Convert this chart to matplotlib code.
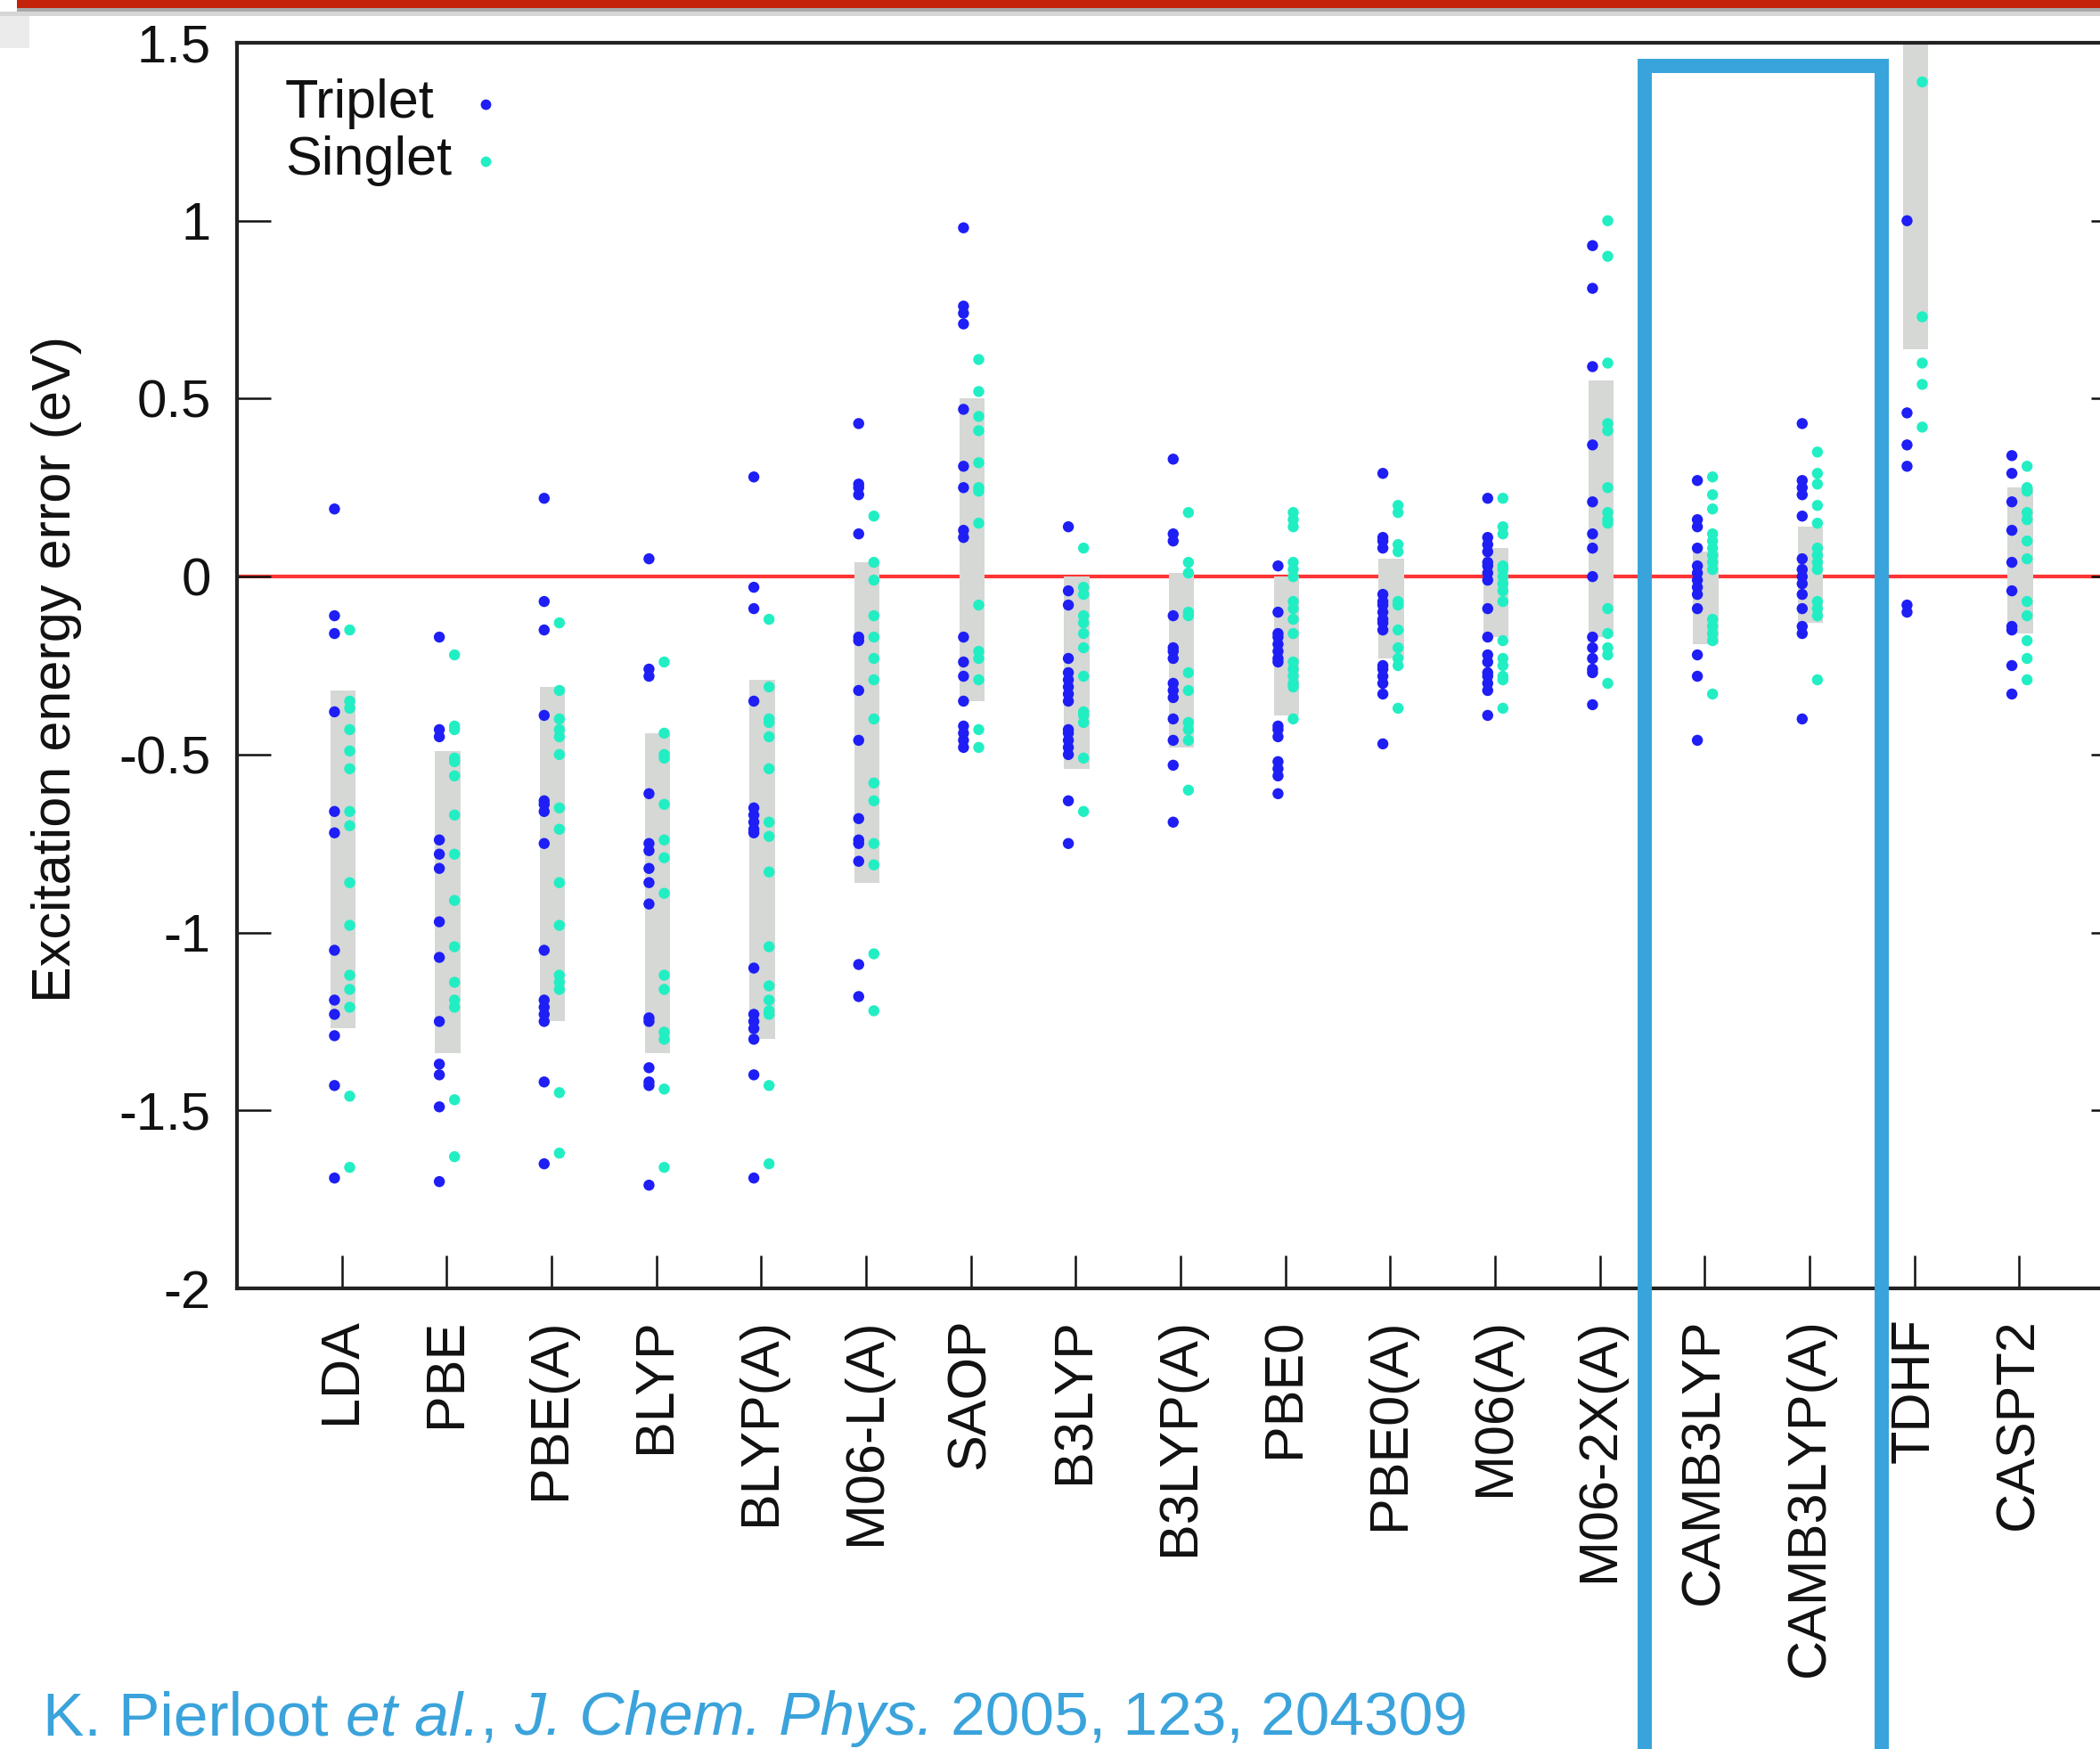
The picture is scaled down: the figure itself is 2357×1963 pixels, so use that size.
import numpy as np
import matplotlib
matplotlib.use('Agg')
import matplotlib.pyplot as plt
from matplotlib.patches import Rectangle

plt.rcParams['font.family'] = ['Liberation Sans', 'DejaVu Sans']

# Metody (osa x)
methods = ['LDA', 'PBE', 'PBE(A)', 'BLYP', 'BLYP(A)', 'M06-L(A)', 'SAOP', 'B3LYP',
           'B3LYP(A)', 'PBE0', 'PBE0(A)', 'M06(A)', 'M06-2X(A)', 'CAMB3LYP',
           'CAMB3LYP(A)', 'TDHF', 'CASPT2']

# Chyby excitačních energií (eV), tripletní (_T) a singletní (_S) stavy
LDA_T = [0.19, -0.11, -0.16, -0.38, -0.66, -0.72, -1.05, -1.19, -1.23, -1.29, -1.43, -1.69]
LDA_S = [-0.15, -0.35, -0.37, -0.43, -0.49, -0.54, -0.66, -0.70, -0.86, -0.98, -1.12, -1.16, -1.21, -1.46, -1.66]
PBE_T = [-0.17, -0.43, -0.45, -0.74, -0.78, -0.82, -0.97, -1.07, -1.25, -1.37, -1.40, -1.49, -1.70]
PBE_S = [-0.22, -0.42, -0.43, -0.51, -0.52, -0.56, -0.67, -0.78, -0.91, -1.04, -1.14, -1.19, -1.21, -1.47, -1.63]
PBEA_T = [0.22, -0.07, -0.15, -0.39, -0.63, -0.64, -0.66, -0.75, -1.05, -1.19, -1.21, -1.23, -1.25, -1.42, -1.65]
PBEA_S = [-0.13, -0.32, -0.40, -0.43, -0.45, -0.50, -0.65, -0.71, -0.86, -0.98, -1.12, -1.14, -1.16, -1.45, -1.62]
BLYP_T = [0.05, -0.26, -0.28, -0.61, -0.75, -0.77, -0.82, -0.86, -0.92, -1.24, -1.25, -1.38, -1.42, -1.43, -1.71]
BLYP_S = [-0.24, -0.44, -0.50, -0.51, -0.64, -0.74, -0.79, -0.89, -1.12, -1.16, -1.28, -1.30, -1.44, -1.66]
BLYPA_T = [0.28, -0.03, -0.09, -0.35, -0.65, -0.67, -0.69, -0.71, -0.72, -1.10, -1.23, -1.25, -1.27, -1.30, -1.40, -1.69]
BLYPA_S = [-0.12, -0.31, -0.40, -0.41, -0.45, -0.54, -0.69, -0.73, -0.83, -1.04, -1.15, -1.19, -1.22, -1.23, -1.43, -1.65]
M06LA_T = [0.43, 0.26, 0.25, 0.23, 0.12, -0.17, -0.18, -0.32, -0.46, -0.68, -0.74, -0.75, -0.80, -1.09, -1.18]
M06LA_S = [0.17, 0.04, -0.01, -0.11, -0.17, -0.23, -0.29, -0.40, -0.58, -0.63, -0.75, -0.81, -1.06, -1.22]
SAOP_T = [0.98, 0.76, 0.74, 0.71, 0.47, 0.31, 0.25, 0.13, 0.11, -0.17, -0.24, -0.28, -0.35, -0.42, -0.44, -0.46, -0.48]
SAOP_S = [0.61, 0.52, 0.45, 0.41, 0.32, 0.25, 0.24, 0.15, -0.08, -0.21, -0.23, -0.29, -0.43, -0.48]
B3LYP_T = [0.14, -0.04, -0.08, -0.23, -0.27, -0.29, -0.31, -0.33, -0.35, -0.43, -0.44, -0.46, -0.48, -0.50, -0.63, -0.75]
B3LYP_S = [0.08, -0.03, -0.05, -0.11, -0.13, -0.16, -0.20, -0.28, -0.38, -0.39, -0.41, -0.51, -0.66]
B3LYPA_T = [0.33, 0.12, 0.10, -0.11, -0.20, -0.21, -0.23, -0.30, -0.32, -0.34, -0.40, -0.46, -0.53, -0.69]
B3LYPA_S = [0.18, 0.04, 0.01, -0.10, -0.11, -0.27, -0.32, -0.41, -0.43, -0.46, -0.60]
PBE0_T = [0.03, -0.10, -0.16, -0.17, -0.19, -0.21, -0.23, -0.24, -0.42, -0.43, -0.45, -0.52, -0.54, -0.56, -0.61]
PBE0_S = [0.18, 0.16, 0.14, 0.04, 0.02, 0.00, -0.07, -0.09, -0.12, -0.16, -0.24, -0.26, -0.28, -0.30, -0.31, -0.40]
PBE0A_T = [0.29, 0.11, 0.10, 0.08, -0.05, -0.07, -0.08, -0.10, -0.12, -0.13, -0.15, -0.25, -0.26, -0.28, -0.30, -0.33, -0.47]
PBE0A_S = [0.20, 0.18, 0.09, 0.07, -0.07, -0.08, -0.15, -0.20, -0.23, -0.25, -0.37]
M06A_T = [0.22, 0.11, 0.09, 0.07, 0.04, 0.03, 0.01, -0.01, -0.09, -0.17, -0.22, -0.24, -0.27, -0.28, -0.30, -0.32, -0.39]
M06A_S = [0.22, 0.14, 0.12, 0.03, 0.02, 0.00, -0.02, -0.04, -0.07, -0.18, -0.23, -0.25, -0.28, -0.29, -0.37]
M062XA_T = [0.93, 0.81, 0.59, 0.37, 0.21, 0.12, 0.08, 0.00, -0.17, -0.20, -0.23, -0.26, -0.27, -0.36]
M062XA_S = [1.00, 0.90, 0.60, 0.43, 0.41, 0.25, 0.18, 0.16, 0.15, -0.09, -0.16, -0.20, -0.22, -0.30]
CAM_T = [0.27, 0.16, 0.14, 0.08, 0.03, 0.01, -0.01, -0.03, -0.05, -0.09, -0.22, -0.28, -0.46]
CAM_S = [0.28, 0.23, 0.19, 0.12, 0.10, 0.08, 0.06, 0.04, 0.02, -0.12, -0.14, -0.16, -0.18, -0.33]
CAMA_T = [0.43, 0.27, 0.25, 0.23, 0.17, 0.05, 0.02, 0.00, -0.02, -0.05, -0.09, -0.14, -0.16, -0.40]
CAMA_S = [0.35, 0.29, 0.26, 0.20, 0.15, 0.08, 0.06, 0.04, 0.02, -0.07, -0.09, -0.11, -0.29]
TDHF_T = [1.00, 0.46, 0.37, 0.31, -0.08, -0.10]
TDHF_S = [1.39, 0.73, 0.60, 0.54, 0.42]
CASPT2_T = [0.34, 0.29, 0.21, 0.13, 0.04, -0.04, -0.14, -0.15, -0.25, -0.33]
CASPT2_S = [0.31, 0.25, 0.24, 0.18, 0.16, 0.10, 0.05, -0.07, -0.11, -0.18, -0.23, -0.29]

# Šedé pruhy (rozptyl chyb) - dolní a horní mez
band_lo = [-1.27, -1.34, -1.25, -1.34, -1.30, -0.86, -0.35, -0.54, -0.48,
           -0.39, -0.23, -0.17, -0.17, -0.19, -0.13, 0.64, -0.16]
band_hi = [-0.32, -0.49, -0.31, -0.44, -0.29, 0.04, 0.50, 0.00, 0.01,
           0.00, 0.05, 0.08, 0.55, 0.07, 0.14, 1.60, 0.25]

triplet = [LDA_T, PBE_T, PBEA_T, BLYP_T, BLYPA_T, M06LA_T, SAOP_T, B3LYP_T, B3LYPA_T,
           PBE0_T, PBE0A_T, M06A_T, M062XA_T, CAM_T, CAMA_T, TDHF_T, CASPT2_T]
singlet = [LDA_S, PBE_S, PBEA_S, BLYP_S, BLYPA_S, M06LA_S, SAOP_S, B3LYP_S, B3LYPA_S,
           PBE0_S, PBE0A_S, M06A_S, M062XA_S, CAM_S, CAMA_S, TDHF_S, CASPT2_S]

W, H = 2357, 1963
fig = plt.figure(figsize=(W / 100, H / 100), dpi=100)
fig.patch.set_facecolor('white')

# Osy v pixelech obrázku
ax_l, ax_r, ax_t, ax_b = 266, 2384, 48, 1446
ax = fig.add_axes([ax_l / W, 1 - ax_b / H, (ax_r - ax_l) / W, (ax_b - ax_t) / H])

x = np.arange(1, len(methods) + 1)
lo = np.array(band_lo)
hi = np.array(band_hi)

ax.axhline(0, color='#FF3535', lw=3, zorder=1)
ax.bar(x + 0.01, hi - lo, bottom=lo, width=0.24, color='#D5D8D5', zorder=2)

blue = '#1E1EF5'
cyan = '#22EEC4'
for xi, t, s in zip(x, triplet, singlet):
    ax.scatter(np.full(len(t), xi - 0.07), t, s=80, color=blue, edgecolors='none', zorder=3)
    ax.scatter(np.full(len(s), xi + 0.075), s, s=80, color=cyan, edgecolors='none', zorder=4)

ax.set_xlim(0, 18)
ax.set_ylim(-2, 1.5)
ax.set_yticks([1.5, 1, 0.5, 0, -0.5, -1, -1.5, -2])
ax.set_yticklabels(['1.5', '1', '0.5', '0', '-0.5', '-1', '-1.5', '-2'])
ax.set_xticks(x)
ax.set_xticklabels(methods, rotation=90, va='top', ha='center')

for sp in ax.spines.values():
    sp.set_linewidth(3)
    sp.set_color('#222222')
ax.tick_params(axis='y', direction='in', length=27, width=1.8, right=True,
               labelsize=43, pad=21, colors='#111111')
ax.tick_params(axis='x', direction='in', length=27, width=1.8, top=False,
               labelsize=44, pad=24, colors='#111111')

ax.set_ylabel('Excitation energy error (eV)', fontsize=44, color='#111111')
ax.yaxis.set_label_coords(-0.082, 0.497)

# Legenda: popisek vlevo, značka vpravo
ax.text(0.0255, 0.951, 'Triplet', transform=ax.transAxes, ha='left', va='center',
        fontsize=44, color='#111111')
ax.text(0.0255, 0.905, 'Singlet', transform=ax.transAxes, ha='left', va='center',
        fontsize=44, color='#111111')
ax.plot([0.1317], [0.951], 'o', ms=8.5, color=blue, mec='none', transform=ax.transAxes)
ax.plot([0.1317], [0.905], 'o', ms=8.5, color=cyan, mec='none', transform=ax.transAxes)

# Horní červený pruh se stínem
fig.add_artist(Rectangle((19 / W, 1 - 9 / H), 1, 9 / H, transform=fig.transFigure,
                         color='#C4230A', lw=0, zorder=10))
fig.add_artist(Rectangle((19 / W, 1 - 13 / H), 1, 4 / H, transform=fig.transFigure,
                         color='#A8A8A8', lw=0, zorder=9))
fig.add_artist(Rectangle((0, 1 - 18 / H), 1, 5 / H, transform=fig.transFigure,
                         color='#D6D6D6', lw=0, zorder=9))
fig.add_artist(Rectangle((0, 1 - 54 / H), 33 / W, 36 / H, transform=fig.transFigure,
                         color='#EBEBEB', lw=0, zorder=9))

# Modrý rámeček kolem CAM-B3LYP
fig.add_artist(Rectangle((1846 / W, -0.05), (2112 - 1846) / W, 1 - 74 / H + 0.05,
                         transform=fig.transFigure, fill=False, ec='#38A4DB',
                         lw=11.5, zorder=20))

# Citace
cite_color = '#3BA3DB'
fs = 50
space = 0.278 * fs
t1 = fig.text(48 / W, 1 - 1947 / H, 'K. Pierloot', fontsize=fs, color=cite_color,
              ha='left', va='baseline')
t2 = fig.add_artist(plt.Annotation('et al.', xy=(1, 0), xycoords=t1, xytext=(space, 0),
                                   textcoords='offset points', fontsize=fs, style='italic',
                                   color=cite_color, ha='left', va='bottom'))
t3 = fig.add_artist(plt.Annotation(',', xy=(1, 0), xycoords=t2, xytext=(0, 0),
                                   textcoords='offset points', fontsize=fs,
                                   color=cite_color, ha='left', va='bottom'))
t4 = fig.add_artist(plt.Annotation('J. Chem. Phys.', xy=(1, 0), xycoords=t3, xytext=(space, 0),
                                   textcoords='offset points', fontsize=fs, style='italic',
                                   color=cite_color, ha='left', va='bottom'))
t5 = fig.add_artist(plt.Annotation('2005, 123, 204309', xy=(1, 0), xycoords=t4, xytext=(space, 0),
                                   textcoords='offset points', fontsize=fs,
                                   color=cite_color, ha='left', va='bottom'))

fig.savefig('out.png', dpi=100)
